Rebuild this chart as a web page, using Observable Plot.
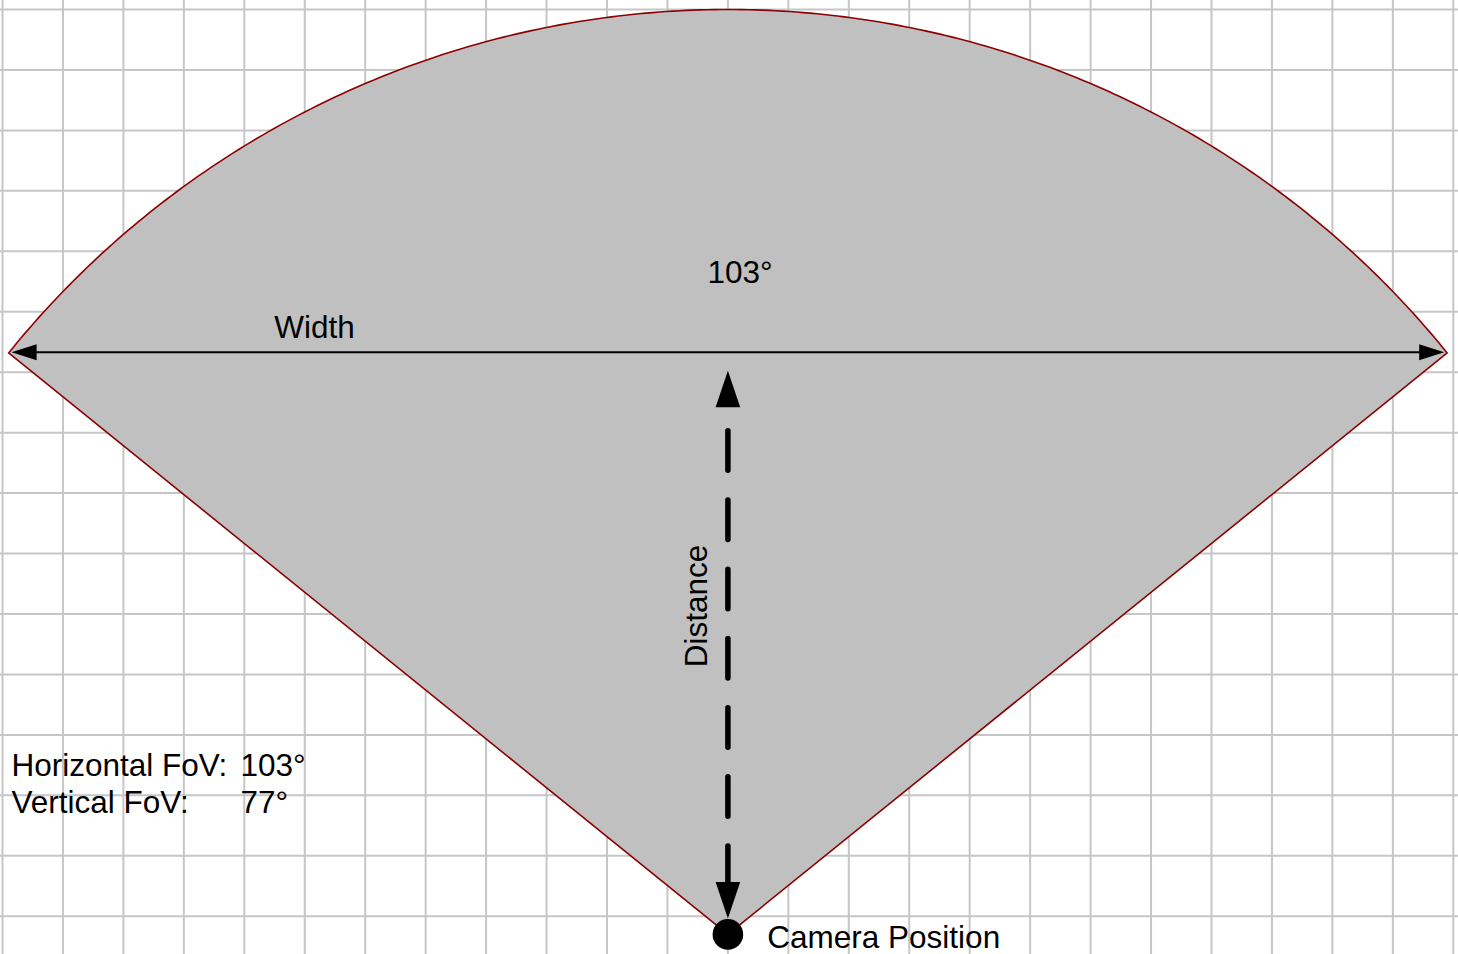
<!DOCTYPE html>
<html><head><meta charset="utf-8">
<script src="https://cdn.jsdelivr.net/npm/d3@7"></script>
<script src="https://cdn.jsdelivr.net/npm/@observablehq/plot@0.6"></script>
<style>html,body{margin:0;padding:0;background:#fff;overflow:hidden}</style>
</head><body><div id="chart"></div>
<script>
// ---------- data (in grid cells; one cell = one square of the background grid) ----------
const gridColumns = [0,1,2,3,4,5,6,7,8,9,10,11,12,13,14,15,16,17,18,19,20,21,22,23,24];
const gridRows = [0,1,2,3,4,5,6,7,8,9,10,11,12,13,14,15];
const cameraX = [12];          // camera column
const cameraY = [15.3];        // camera row (rows counted downward)
const viewRadius = [15.3];     // distance from camera to the arc
const sectorHalfAngle = [51.05]; // degrees, measured from the vertical
const sectorLabels = ["103°"];
const axisLabels = ["Width", "Distance"];
const cameraLabels = ["Camera Position"];
const fovNames = ["Horizontal FoV:", "Vertical FoV:"];
const fovValues = ["103°", "77°"];

// ---------- layout ----------
const W = 1458, H = 954, S = 60.45, X0 = 2, Y0 = 9;
const u = px => px / S;
const px2x = px => (px - X0) / S;
const px2y = py => (py - Y0) / S;
const FONT = "'Liberation Sans', Arial, sans-serif";
const FS = 31.5;

const cx = cameraX[0], cy = cameraY[0], R = viewRadius[0];
const half = sectorHalfAngle[0] * Math.PI / 180;
const N = 240;
const arc = d3.range(N + 1).map(i => {
  const t = -half + 2 * half * i / N;
  return {x: cx + R * Math.sin(t), y: cy - R * Math.cos(t)};
});
const sector = [{x: cx, y: cy}, ...arc, {x: cx, y: cy}];
const leftC = arc[0], rightC = arc[N];
const wy = leftC.y - u(0.8);

// width arrow
const wl = leftC.x + u(3), wr = rightC.x - u(3);
const wHL = u(25), wHW = u(8);
const widthLine = [{x: wl + wHL / 2, y: wy}, {x: wr - wHL / 2, y: wy}];
const widthHeads = [
  {g: "l", x: wl, y: wy}, {g: "l", x: wl + wHL, y: wy - wHW}, {g: "l", x: wl + wHL, y: wy + wHW}, {g: "l", x: wl, y: wy},
  {g: "r", x: wr, y: wy}, {g: "r", x: wr - wHL, y: wy - wHW}, {g: "r", x: wr - wHL, y: wy + wHW}, {g: "r", x: wr, y: wy}
];

// distance arrow
const dotR = 15.3;
const topTip = wy + u(18.5), botTip = cy - u(16);
const dHL = u(36.5), dHW = u(12.3);
const distLine = [{x: cx, y: topTip + dHL}, {x: cx, y: botTip - dHL}];
const distHeads = [
  {g: "t", x: cx, y: topTip}, {g: "t", x: cx - dHW, y: topTip + dHL}, {g: "t", x: cx + dHW, y: topTip + dHL}, {g: "t", x: cx, y: topTip},
  {g: "b", x: cx, y: botTip}, {g: "b", x: cx - dHW, y: botTip - dHL}, {g: "b", x: cx + dHW, y: botTip - dHL}, {g: "b", x: cx, y: botTip}
];

const fovRows = fovNames.map((n, i) => ({name: n, value: fovValues[i], y: px2y(775.7 + i * 37)}));

const chart = Plot.plot({
  width: W, height: H,
  margin: 0,
  x: {domain: [px2x(0), px2x(W)], range: [0, W], axis: null},
  y: {domain: [px2y(0), px2y(H)], range: [0, H], axis: null},
  style: {background: "white", fontFamily: FONT, overflow: "visible"},
  marks: [
    Plot.ruleX(gridColumns, {x: d => d, stroke: "#c6c6c6", strokeWidth: 2, strokeOpacity: 1}),
    Plot.ruleY(gridRows, {y: d => d, stroke: "#c6c6c6", strokeWidth: 2, strokeOpacity: 1}),
    Plot.line(sector, {x: "x", y: "y", fill: "#c0c0c0", stroke: "#8b0000", strokeWidth: 1.6, curve: "linear"}),
    Plot.line(widthLine, {x: "x", y: "y", stroke: "black", strokeWidth: 2}),
    Plot.line(widthHeads, {x: "x", y: "y", z: "g", fill: "black", stroke: "none"}),
    Plot.line(distLine, {x: "x", y: "y", stroke: "black", strokeWidth: 5.5, strokeLinecap: "round",
      strokeDasharray: "39.5,29.7", strokeDashoffset: 45.5}),
    Plot.line(distHeads, {x: "x", y: "y", z: "g", fill: "black", stroke: "none"}),
    Plot.dot([{x: cx, y: cy}], {x: "x", y: "y", r: dotR, fill: "black", stroke: "none"}),
    Plot.text(sectorLabels, {x: px2x(739.5), y: px2y(282.5), text: d => d, fontSize: FS, fontFamily: FONT, textAnchor: "middle", lineAnchor: "bottom", fill: "black"}),
    Plot.text([axisLabels[0]], {x: px2x(314), y: px2y(337.5), text: d => d, fontSize: FS, fontFamily: FONT, textAnchor: "middle", lineAnchor: "bottom", fill: "black"}),
    Plot.text([axisLabels[1]], {x: px2x(706), y: px2y(605.5), text: d => d, rotate: -90, fontSize: FS, fontFamily: FONT, textAnchor: "middle", lineAnchor: "bottom", fill: "black"}),
    Plot.text(fovRows, {x: px2x(10.9), y: "y", text: "name", fontSize: FS, fontFamily: FONT, textAnchor: "start", lineAnchor: "bottom", fill: "black"}),
    Plot.text(fovRows, {x: px2x(240), y: "y", text: "value", fontSize: FS, fontFamily: FONT, textAnchor: "start", lineAnchor: "bottom", fill: "black"}),
    Plot.text(cameraLabels, {x: px2x(766.8), y: px2y(947), text: d => d, fontSize: FS, fontFamily: FONT, textAnchor: "start", lineAnchor: "bottom", fill: "black"})
  ]
});
document.getElementById("chart").appendChild(chart);
</script>
</body></html>
